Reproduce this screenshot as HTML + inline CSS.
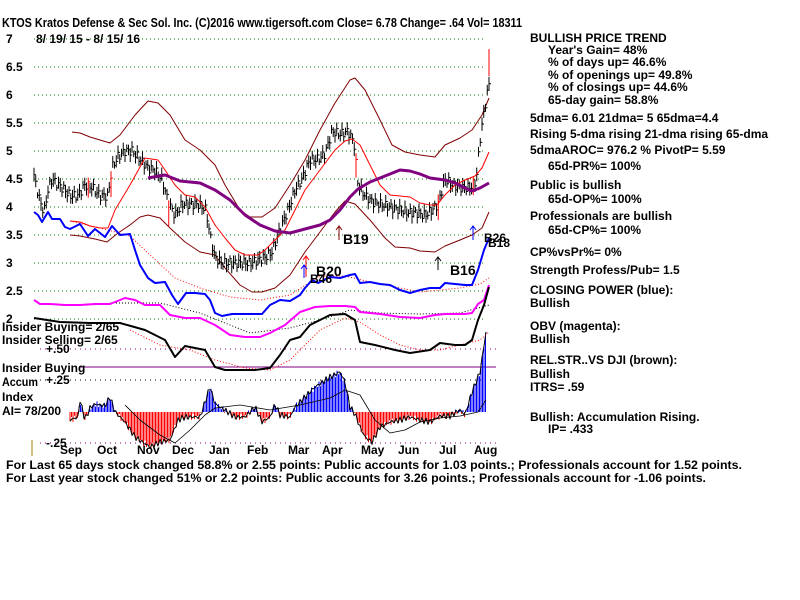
<!DOCTYPE html>
<html><head><meta charset="utf-8"><style>
body{margin:0;background:#fff;}
svg{display:block;font-family:"Liberation Sans",Arial,sans-serif;font-weight:bold;font-size:12px;}
</style></head><body>
<svg id="s" width="800" height="600" xmlns="http://www.w3.org/2000/svg">
<rect width="800" height="600" fill="#fff"/>
<g id="grid" stroke="#008000" stroke-dasharray="1,3" stroke-width="1"></g>
<g id="plot"></g>
<g fill="#000">
<text x="2" y="27" font-size="12.5" textLength="520" lengthAdjust="spacingAndGlyphs">KTOS   Kratos Defense &amp; Sec Sol. Inc.   (C)2016 www.tigersoft.com     Close=  6.78  Change= .64 Vol= 18311</text>
<text x="6" y="43">7</text><text x="36" y="43">8/ 19/ 15 - 8/ 15/ 16</text>
<text x="6" y="71">6.5</text><text x="6" y="99">6</text><text x="6" y="127">5.5</text><text x="6" y="155">5</text>
<text x="6" y="183">4.5</text><text x="6" y="211">4</text><text x="6" y="239">3.5</text><text x="6" y="267">3</text>
<text x="6" y="295">2.5</text><text x="6" y="323">2</text>
<text x="2" y="331">Insider Buying= 2/65</text>
<text x="2" y="344">Insider Selling= 2/65</text>
<text x="46" y="353">+.50</text>
<text x="2" y="372">Insider Buying</text>
<text x="2" y="386" textLength="36" lengthAdjust="spacingAndGlyphs">Accum</text><text x="46" y="384">+.25</text>
<text x="2" y="401">Index</text>
<text x="2" y="415">AI= 78/200</text>
<text x="46" y="447">-.25</text>
<text x="60" y="454">Sep</text><text x="97" y="454">Oct</text><text x="137" y="454">Nov</text><text x="172" y="454">Dec</text>
<text x="209" y="454">Jan</text><text x="247" y="454">Feb</text><text x="288" y="454">Mar</text><text x="322" y="454">Apr</text>
<text x="361" y="454">May</text><text x="398" y="454">Jun</text><text x="439" y="454">Jul</text><text x="474" y="454">Aug</text>
<text x="6" y="469" textLength="736" lengthAdjust="spacingAndGlyphs">For Last 65 days stock changed  58.8% or  2.55 points:  Public accounts for  1.03 points.;  Professionals account for  1.52 points.</text>
<text x="6" y="482" textLength="700" lengthAdjust="spacingAndGlyphs">For Last year stock changed  51% or  2.2 points:  Public accounts for  3.26 points.;  Professionals account for -1.06 points.</text>
<text x="343" y="244" font-size="14">B19</text>
<text x="316" y="276" font-size="14">B20</text>
<text x="310" y="283" font-size="12">B46</text>
<text x="450" y="275" font-size="14">B16</text>
<text x="484" y="242">B26</text><text x="488" y="247">B18</text>
</g>
<g fill="#000">
<text x="530" y="42">BULLISH PRICE TREND</text>
<text x="548" y="54">Year's Gain= 48%</text>
<text x="548" y="66">% of days up= 46.6%</text>
<text x="548" y="79">% of openings up= 49.8%</text>
<text x="548" y="91">% of closings up= 44.6%</text>
<text x="548" y="104">65-day gain= 58.8%</text>
<text x="530" y="122">5dma= 6.01 21dma= 5 65dma=4.4</text>
<text x="530" y="138">Rising 5-dma  rising 21-dma  rising 65-dma</text>
<text x="530" y="154">5dmaAROC= 976.2 %  PivotP= 5.59</text>
<text x="548" y="170">65d-PR%= 100%</text>
<text x="530" y="189">Public is bullish</text>
<text x="548" y="203">65d-OP%= 100%</text>
<text x="530" y="220">Professionals are bullish</text>
<text x="548" y="234">65d-CP%= 100%</text>
<text x="530" y="256">CP%vsPr%=  0%</text>
<text x="530" y="274">Strength Profess/Pub= 1.5</text>
<text x="530" y="294">CLOSING POWER (blue):</text>
<text x="530" y="307">Bullish</text>
<text x="530" y="330">OBV (magenta):</text>
<text x="530" y="343">Bullish</text>
<text x="530" y="364">REL.STR..VS DJI (brown):</text>
<text x="530" y="378">Bullish</text>
<text x="530" y="391">ITRS= .59</text>
<text x="530" y="421">Bullish: Accumulation Rising.</text>
<text x="548" y="433">IP=  .433</text>
</g>
</svg>
<script>
var NS="http://www.w3.org/2000/svg";
var grid=document.getElementById("grid"),plot=document.getElementById("plot");
function el(t,a,p){var e=document.createElementNS(NS,t);for(var k in a)e.setAttribute(k,a[k]);(p||plot).appendChild(e);return e;}
for(var i=0;i<11;i++){var y=39+28*i;el("line",{x1:34,x2:484,y1:y,y2:y},grid);}
function pl(pts,c,w,d){el("polyline",{points:pts.map(function(p){return p[0]+","+p[1]}).join(" "),fill:"none",stroke:c,"stroke-width":w||1,"stroke-dasharray":d||"none","stroke-linejoin":"round"});}
function interp(pts,x){for(var i=0;i<pts.length-1;i++){if(x>=pts[i][0]&&x<=pts[i+1][0]){var t=(x-pts[i][0])/(pts[i+1][0]-pts[i][0]);return pts[i][1]+t*(pts[i+1][1]-pts[i][1]);}}return pts[pts.length-1][1];}
el("line",{x1:40,x2:496,y1:349,y2:349,stroke:"#800080","stroke-dasharray":"1,4"});
el("line",{x1:40,x2:496,y1:380,y2:380,stroke:"#000","stroke-dasharray":"1,4"});
el("line",{x1:40,x2:496,y1:443,y2:443,stroke:"#800080","stroke-dasharray":"1,4"});
el("line",{x1:80,x2:496,y1:367,y2:367,stroke:"#800080","stroke-width":1});
el("line",{x1:32,x2:32,y1:440,y2:456,stroke:"#a08000"});
var ai=[[70,-8],[78,-5],[80,12],[85,-8],[90,4],[95,8],[105,6],[110,15],[115,0],[125,-10],[135,-25],[150,-35],[160,-30],[170,-28],[178,-8],[185,-5],[200,-5],[205,10],[210,25],[215,8],[225,2],[235,-5],[245,-5],[255,5],[262,-10],[270,-5],[275,8],[280,-3],[290,-5],[295,5],[305,15],[315,25],[330,35],[340,40],[345,30],[350,5],[355,-2],[360,-15],[365,-25],[372,-30],[380,-15],[390,-10],[400,-8],[410,-5],[420,-8],[430,-10],[440,-4],[450,-4],[460,2],[465,-3],[472,20],[480,40],[486,80]];
for(var x=70;x<=486;x+=1.5){var v=interp(ai,x)+Math.sin(x*1.7)*3;el("line",{x1:x,x2:x,y1:412,y2:412-v,stroke:v>0?"#0000ff":"#ff0000","stroke-width":1});}
var aiPts=[];for(var x=70;x<=486;x+=2){aiPts.push([x,412-interp(ai,x)-Math.sin(x*1.7)*3]);}pl(aiPts,"#000",1);
pl([[125,405],[140,420],[160,435],[175,443],[190,430],[205,415],[215,408],[240,405],[270,410],[300,405],[330,398],[345,390],[360,395],[375,420],[390,433],[405,430],[420,422],[440,418],[460,416],[478,412],[486,400]],"#000",0.8);
pl([[72,132],[80,133],[90,137],[110,143],[120,135],[135,115],[148,101],[158,103],[170,115],[185,140],[200,150],[215,165],[225,185],[240,210],[250,217],[262,217],[275,208],[290,185],[305,160],[320,130],[335,103],[350,80],[355,78],[365,90],[380,120],[392,145],[405,152],[420,155],[435,157],[445,145],[460,138],[472,130],[482,115],[489,98]],"#800000",1);
pl([[70,235],[80,236],[95,239],[107,242],[118,233],[130,225],[140,217],[148,215],[160,218],[170,228],[185,242],[200,252],[215,255],[225,268],[240,285],[252,292],[262,292],[275,288],[290,275],[305,252],[320,232],[335,212],[345,201],[355,204],[370,220],[385,238],[395,247],[410,248],[420,251],[435,252],[445,246],[460,240],[472,235],[482,228],[489,212]],"#800000",1);
pl([[70,221],[100,228],[130,236],[150,255],[175,278],[200,288],[230,297],[260,300],[290,295],[320,276],[345,276],[370,282],[400,288],[420,292],[440,290],[460,288],[480,284],[489,278]],"#ff0000",1,"1,2");
pl([[130,330],[160,345],[190,350],[215,360],[245,368],[270,370],[290,360],[320,330],[345,318],[360,322],[380,335],[400,345],[420,350],[440,350],[460,345],[480,340],[489,332]],"#ff0000",1,"1,2");
pl([[110,303],[160,303],[200,313],[250,333],[290,328],[320,320],[350,310],[380,313],[420,314],[460,313],[489,305]],"#000",1,"1,2");
var pr=[[34,4.55],[40,4.1],[44,3.9],[48,4.3],[52,4.5],[58,4.4],[65,4.3],[70,4.2],[78,4.2],[85,4.4],[92,4.35],[100,4.2],[108,4.2],[112,4.7],[118,4.9],[125,5.0],[132,5.0],[140,4.85],[148,4.7],[155,4.65],[162,4.5],[168,4.1],[175,3.85],[182,4.05],[190,4.05],[198,4.05],[206,3.95],[210,3.5],[215,3.1],[222,3.0],[232,3.0],[240,3.0],[250,3.0],[258,3.05],[265,3.1],[272,3.2],[280,3.6],[288,3.95],[295,4.3],[302,4.5],[310,4.85],[318,4.85],[325,4.95],[332,5.35],[340,5.3],[348,5.35],[354,5.15],[358,4.4],[365,4.2],[372,4.1],[380,4.05],[390,4.0],[400,3.95],[408,3.9],[416,3.9],[425,3.85],[432,3.95],[438,4.05],[445,4.5],[452,4.4],[460,4.35],[470,4.35],[476,4.45],[480,5.2],[484,5.7],[487,6.0],[489,6.2]];
var reds={72:1,88:1,111:1,121:1,135:1,169:1,208:1,289:1,356:1,438:1,473:1,478:1,485:1};
for(var x=34;x<=489;x+=1.75){var p=interp(pr,x)+Math.sin(x*2.3)*0.08;var y=319-(p-2)*56;var h=6+Math.abs(Math.sin(x*3.1))*8;var r=reds[Math.round(x)];el("line",{x1:x,x2:x,y1:y-h/2,y2:y+h/2+(r?12:0),stroke:r?"#ff0000":"#000","stroke-width":1});el("line",{x1:x,x2:x+2,y1:y,y2:y,stroke:r?"#ff0000":"#000"});}
el("line",{x1:489,x2:489,y1:49,y2:76,stroke:"#ff0000"});
pl([[70,221],[80,222],[90,226],[100,228],[108,228],[115,210],[130,185],[145,158],[158,160],[165,170],[175,185],[185,195],[195,197],[205,207],[215,225],[225,238],[235,250],[245,255],[258,255],[265,250],[275,240],[285,230],[295,210],[305,190],[320,170],[335,150],[345,141],[352,139],[360,145],[370,165],[380,185],[390,195],[400,196],[410,197],[420,203],[430,205],[437,205],[445,195],[455,185],[465,180],[475,176],[482,168],[489,152]],"#ff0000",1);
pl([[148,178],[165,175],[180,181],[200,183],[215,190],[230,200],[245,215],[260,225],[275,231],[290,233],[305,229],[320,225],[330,220],[340,210],[350,197],[358,189],[370,182],[385,176],[400,170],[410,171],[420,174],[430,178],[445,180],[455,183],[465,188],[472,191],[480,188],[489,183]],"#800080",3);
pl([[34,212],[38,215],[42,222],[48,212],[52,219],[60,219],[65,227],[70,229],[80,224],[88,236],[95,229],[105,237],[112,226],[120,235],[130,234],[135,250],[140,265],[148,278],[155,283],[165,282],[172,295],[178,304],[186,293],[195,293],[205,294],[210,300],[215,313],[222,316],[232,314],[242,314],[255,314],[262,314],[270,305],[280,300],[290,301],[300,295],[305,288],[312,280],[318,283],[330,277],[340,278],[350,275],[355,274],[360,283],[370,282],[380,284],[390,285],[400,290],[410,293],[420,290],[430,288],[440,288],[445,283],[455,284],[465,285],[472,285],[478,270],[484,250],[489,238]],"#0000ff",2);
pl([[34,300],[40,304],[50,304],[65,305],[80,305],[95,304],[110,304],[125,298],[135,300],[145,305],[160,305],[170,315],[185,318],[200,318],[215,325],[230,335],[245,337],[260,337],[270,333],[285,325],[300,312],[315,307],[330,306],[345,306],[355,307],[360,312],[380,314],[400,317],[420,318],[435,315],[445,314],[465,314],[472,313],[478,304],[484,300],[489,285]],"#ff00ff",2);
pl([[34,318],[60,322],[90,323],[120,323],[145,330],[165,340],[175,357],[185,346],[195,348],[205,350],[215,367],[225,370],[240,370],[255,370],[270,368],[280,355],[290,340],[300,337],[310,325],[330,315],[345,314],[355,320],[360,342],[375,345],[395,350],[410,353],[430,350],[440,343],[455,345],[465,345],[472,340],[478,320],[484,305],[489,287]],"#000",2);
function arrow(x,y1,y2,c){el("line",{x1:x,x2:x,y1:y1,y2:y2,stroke:c});el("polyline",{points:(x-3)+","+(y2+4)+" "+x+","+y2+" "+(x+3)+","+(y2+4),fill:"none",stroke:c});}
arrow(339,240,226,"#800000");arrow(306,277,256,"#ff0000");arrow(304,278,265,"#0000ff");arrow(438,270,257,"#000");arrow(473,240,226,"#0000ff");
</script>
</body></html>
